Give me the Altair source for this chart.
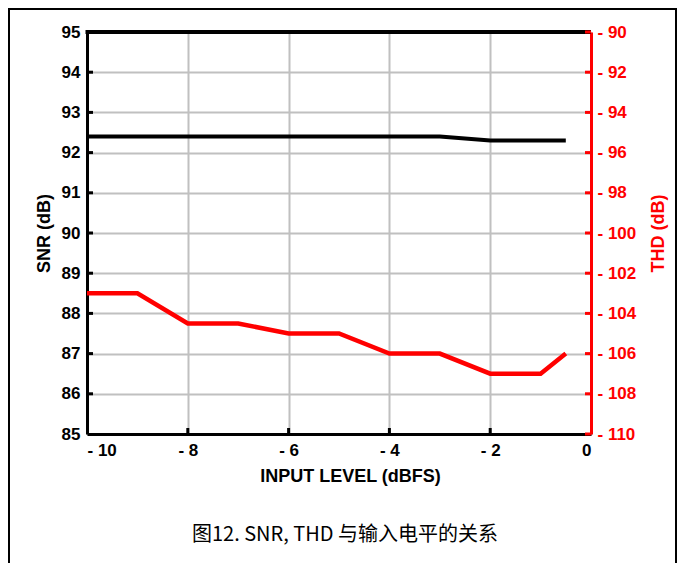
import altair as alt
import pandas as pd

# ---- data ----
levels = [-10, -9, -8, -7, -6, -5, -4, -3, -2, -1, -0.5]
snr = [92.4, 92.4, 92.4, 92.4, 92.4, 92.4, 92.4, 92.4, 92.3, 92.3, 92.3]
thd = [-103, -103, -104.5, -104.5, -105, -105, -106, -106, -107, -107, -106]

x_ticks = [-10, -8, -6, -4, -2, 0]
snr_ticks = [85, 86, 87, 88, 89, 90, 91, 92, 93, 94, 95]
thd_ticks = [-110, -108, -106, -104, -102, -100, -98, -96, -94, -92, -90]
caption = "图12. SNR, THD 与输入电平的关系"

FONT = "Liberation Sans"
RED = "#ff0000"
W, H = 504, 402

df = pd.DataFrame({"level": levels, "SNR": snr, "THD": thd})

xscale = alt.Scale(domain=[-10, 0], nice=False, zero=False)
neg_expr = "datum.value < 0 ? '- ' + (-datum.value) : '' + datum.value"

X = alt.X(
    "level:Q",
    scale=xscale,
    axis=alt.Axis(
        values=x_ticks, title="INPUT LEVEL (dBFS)", labelExpr=neg_expr,
        grid=True, gridColor="#c0c0c0", gridWidth=2, ticks=False,
        domain=True, domainColor="black", domainWidth=3,
        labelFont=FONT, labelFontSize=17, labelFontWeight="bold", labelColor="black",
        labelPadding=8,
        titleFont=FONT, titleFontSize=18, titleFontWeight="bold", titleColor="black",
        titlePadding=9, titleX=263,
    ),
)

snr_axis = alt.Axis(
    values=snr_ticks, title="SNR (dB)",
    grid=True, gridColor="#c0c0c0", gridWidth=2, ticks=False,
    domain=True, domainColor="black", domainWidth=3,
    labelFont=FONT, labelFontSize=17, labelFontWeight="bold", labelColor="black",
    labelPadding=7,
    titleFont=FONT, titleFontSize=18, titleFontWeight="bold", titleColor="black",
    titlePadding=8,
)
thd_axis = alt.Axis(
    values=thd_ticks, title="THD (dB)", orient="right", labelExpr=neg_expr,
    grid=False, ticks=False,
    domain=True, domainColor=RED, domainWidth=3,
    labelFont=FONT, labelFontSize=17, labelFontWeight="bold", labelColor=RED,
    labelPadding=6,
    titleFont=FONT, titleFontSize=18, titleFontWeight="bold", titleColor=RED,
    titlePadding=14, titleAngle=270, titleBaseline="top",
)

Ysnr = alt.Y("SNR:Q", scale=alt.Scale(domain=[85, 95], nice=False, zero=False), axis=snr_axis)
Ythd = alt.Y("THD:Q", scale=alt.Scale(domain=[-110, -90], nice=False, zero=False), axis=thd_axis)

snr_line = alt.Chart(df).mark_line(color="black", strokeWidth=4, strokeCap="butt").encode(x=X, y=Ysnr)

snr_tick_df = pd.DataFrame({"SNR": snr_ticks[1:-1]})
snr_tick_marks = alt.Chart(snr_tick_df).mark_rule(color="black", strokeWidth=3).encode(
    y=Ysnr, x=alt.value(0), x2=alt.value(6)
)
x_tick_df = pd.DataFrame({"level": x_ticks[1:-1]})
x_tick_marks = alt.Chart(x_tick_df).mark_rule(color="black", strokeWidth=3).encode(
    x=X, y=alt.value(H), y2=alt.value(H - 6)
)

frame_df = pd.DataFrame({"k": [0]})
plot_top = alt.Chart(frame_df).mark_rule(color="black", strokeWidth=4).encode(
    x=alt.value(-1.5), x2=alt.value(W), y=alt.value(0)
)
frame_left = alt.Chart(frame_df).mark_rule(color="black", strokeWidth=2).encode(
    x=alt.value(-78), y=alt.value(-24), y2=alt.value(H + 129)
)
frame_top = alt.Chart(frame_df).mark_rule(color="black", strokeWidth=2).encode(
    x=alt.value(-79), x2=alt.value(590), y=alt.value(-23)
)
frame_right = alt.Chart(frame_df).mark_rule(color="black", strokeWidth=2).encode(
    x=alt.value(589), y=alt.value(-24), y2=alt.value(H + 129)
)
cap = alt.Chart(pd.DataFrame({"caption": [caption]})).mark_text(
    font="Noto Sans CJK SC", fontSize=20, color="black", align="center", baseline="middle"
).encode(text="caption:N", x=alt.value(258), y=alt.value(503))

left = alt.layer(snr_line, snr_tick_marks, x_tick_marks, plot_top, frame_left, frame_top, frame_right, cap)

thd_line = alt.Chart(df).mark_line(color=RED, strokeWidth=4.5, strokeCap="butt").encode(x=X, y=Ythd)
thd_tick_df = pd.DataFrame({"THD": thd_ticks})
thd_tick_marks = alt.Chart(thd_tick_df).mark_rule(color=RED, strokeWidth=3).encode(
    y=Ythd, x=alt.value(W - 6), x2=alt.value(W)
)
right = alt.layer(thd_line, thd_tick_marks)

chart = (
    alt.layer(left, right)
    .resolve_scale(y="independent")
    .properties(
        width=W, height=H,
        autosize=alt.AutoSizeParams(type="none"),
        padding={"left": 79, "top": 24, "right": 86, "bottom": 129},
        background="white",
    )
    .configure_view(stroke=None)
)

chart.save("out.html", embed_options={"renderer": "svg", "actions": False})
